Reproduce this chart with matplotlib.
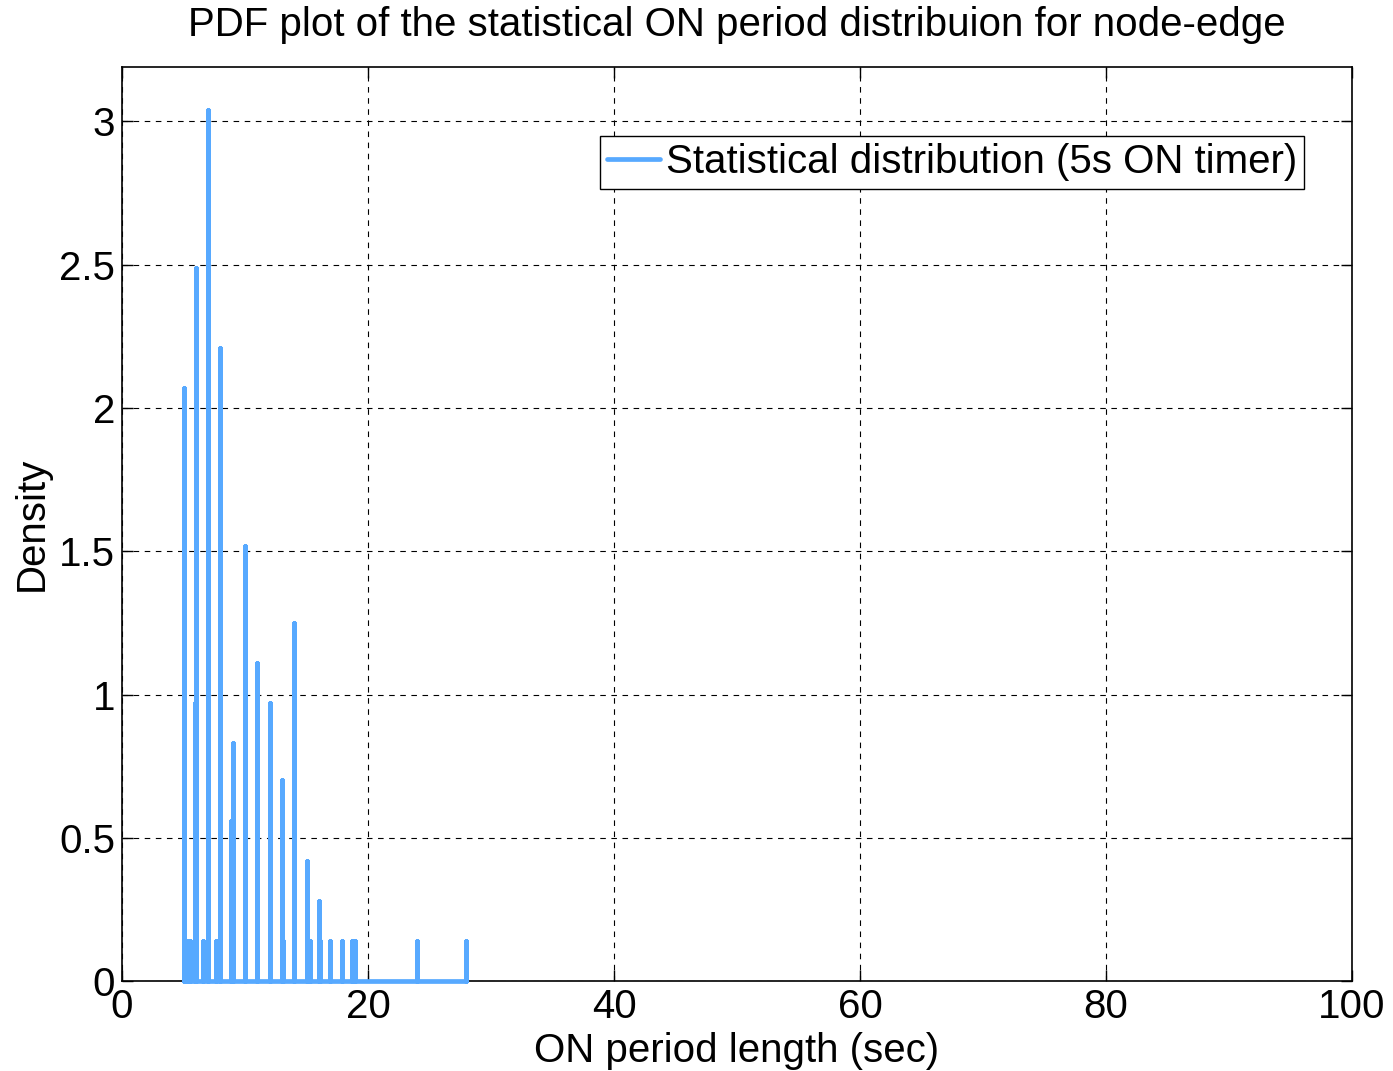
import matplotlib
matplotlib.use('Agg')
import matplotlib.pyplot as plt

plt.rcParams['font.family'] = ['Liberation Sans', 'DejaVu Sans']

# ON period lengths (sec) and the density estimate at each one
on_lengths = [5.0, 5.3, 5.5, 5.9, 6.0, 6.6, 7.0, 7.6, 8.0, 8.9, 9.0,
              10.0, 11.0, 12.0, 13.0, 13.1, 14.0, 15.0, 15.3, 16.0, 16.1,
              16.9, 17.9, 18.7, 18.9, 24.0, 28.0]
density = [2.07, 0.14, 0.14, 0.97, 2.49, 0.14, 3.04, 0.14, 2.21, 0.56, 0.83,
           1.52, 1.11, 0.97, 0.70, 0.14, 1.25, 0.42, 0.14, 0.28, 0.14,
           0.14, 0.14, 0.14, 0.14, 0.14, 0.14]

x_ticks = [0, 20, 40, 60, 80, 100]
y_ticks = [0, 0.5, 1, 1.5, 2, 2.5, 3]
y_ticklabels = ['0', '0.5', '1', '1.5', '2', '2.5', '3']

# spikes joined along the zero line
xs, ys = [], []
for p, d in zip(on_lengths, density):
    xs += [p, p, p]
    ys += [0, d, 0]

fig = plt.figure(figsize=(13.93, 10.71), dpi=100)
ax = fig.add_axes([0.0876, 0.084, 0.883, 0.8534])

ax.plot(xs, ys, color='#57A9FF', linewidth=3.4,
        solid_joinstyle='round', solid_capstyle='round',
        clip_on=False, zorder=3,
        label='Statistical distribution (5s ON timer)')

ax.set_xlim(0, 100)
ax.set_ylim(0, 3.19)
ax.set_xticks(x_ticks)
ax.set_yticks(y_ticks)
ax.set_yticklabels(y_ticklabels)
ax.grid(True, color='black', linestyle=(0, (5, 5)), linewidth=0.8)
ax.tick_params(direction='in', length=8, width=1, labelsize=29,
               top=True, right=True, pad=5)
for s in ax.spines.values():
    s.set_linewidth(1.2)
    s.set_zorder(2.5)

ax.set_title('PDF plot of the statistical ON period distribuion for node-edge',
             fontsize=29, pad=22)
ax.set_xlabel('ON period length (sec)', fontsize=29, labelpad=4)
ax.set_ylabel('Density', fontsize=29, labelpad=6)

leg = ax.legend(loc='upper right', bbox_to_anchor=(0.961, 0.9245),
                borderaxespad=0, fontsize=29, handlelength=1.3,
                handletextpad=0.15, borderpad=0.18, fancybox=False,
                framealpha=1)
leg.get_frame().set_edgecolor('black')
leg.get_frame().set_linewidth(1.0)

fig.savefig('out.png', dpi=100)
